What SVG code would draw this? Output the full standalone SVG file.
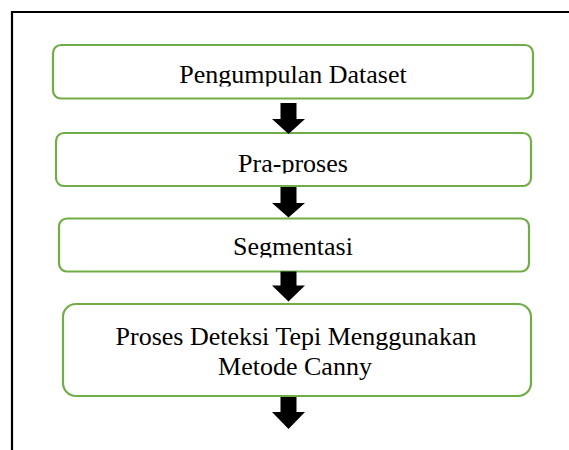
<svg xmlns="http://www.w3.org/2000/svg" width="569" height="450" viewBox="0 0 569 450">
<style>
.box{fill:#fff;stroke:#70AD47;stroke-width:2.2}
.lbl{font-family:"Liberation Serif","Times New Roman",serif;font-size:26px;fill:#000;text-anchor:middle}
.arr{fill:#000}
</style>
<defs>
<clipPath id="c1"><rect x="0" y="0" width="569" height="86.5"/></clipPath>
<clipPath id="c2"><rect x="0" y="100" width="569" height="73.5"/></clipPath>
<clipPath id="c3"><rect x="0" y="190" width="569" height="67.5"/></clipPath>
</defs>
<rect width="569" height="450" fill="#fff"/>
<path d="M12,450 V12 H569" fill="none" stroke="#000" stroke-width="2.2"/>
<g id="n1">
<rect class="box" x="53" y="45" width="480" height="53.5" rx="8"/>
<text class="lbl" x="293" y="82.7" clip-path="url(#c1)">Pengumpulan Dataset</text>
</g>
<g id="n2">
<rect class="box" x="56" y="133" width="475" height="53" rx="8"/>
<text class="lbl" x="293" y="171.7" clip-path="url(#c2)">Pra-proses</text>
</g>
<g id="n3">
<rect class="box" x="59" y="218.5" width="470" height="53" rx="8"/>
<text class="lbl" x="293" y="255" clip-path="url(#c3)">Segmentasi</text>
</g>
<g id="n4">
<rect class="box" x="63" y="304" width="468" height="92" rx="13"/>
<text class="lbl" x="296" y="345">Proses Deteksi Tepi Menggunakan</text>
<text class="lbl" x="295" y="375">Metode Canny</text>
</g>
<g id="connectors">
<path class="arr" d="M280.5,103 H296.5 V119 H305 L288.5,134 L272,119 H280.5 Z"/>
<path class="arr" d="M280.5,187 H296.5 V203 H305 L288.5,217.5 L272,203 H280.5 Z"/>
<path class="arr" d="M280.5,271.5 H296.5 V285.5 H305 L288.5,301.5 L272,285.5 H280.5 Z"/>
<path class="arr" d="M280.5,397 H296.5 V412 H305 L288.5,429 L272,412 H280.5 Z"/>
</g>
</svg>
